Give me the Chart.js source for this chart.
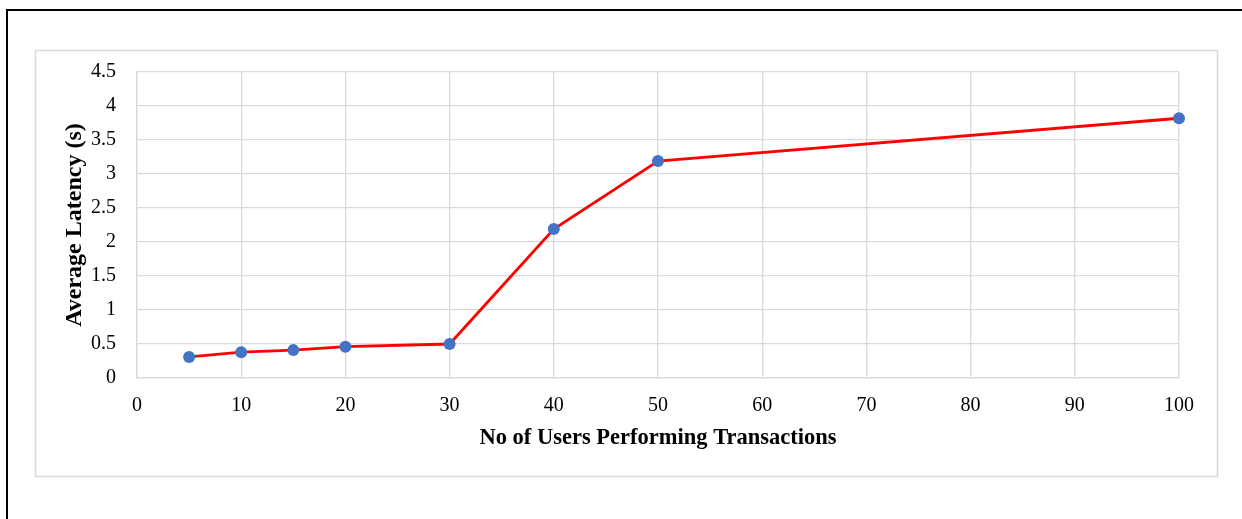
<!DOCTYPE html>
<html>
<head>
<meta charset="utf-8">
<title>Average Latency</title>
<script src="https://cdn.jsdelivr.net/npm/chart.js@4/dist/chart.umd.min.js"></script>
<style>
  html, body { margin: 0; padding: 0; background: #fff; }
  canvas { display: block; }
</style>
</head>
<body>
<canvas id="latency-chart" width="1242" height="519"></canvas>
<script>
// number of users on the x axis and measured latency in seconds
const users = [5, 10, 15, 20, 30, 40, 50, 100];
const latency = [0.31, 0.38, 0.41, 0.46, 0.50, 2.19, 3.19, 3.82];

const xTitle = 'No of Users Performing Transactions';
const yTitle = 'Average Latency (s)';

const serif = "'Liberation Serif', 'Times New Roman', serif";

// black frame (top + left) and the light grey chart box
const framePlugin = {
    id: 'frame',
    beforeDraw(chart) {
        const ctx = chart.ctx;
        ctx.save();
        ctx.fillStyle = '#fff';
        ctx.fillRect(0, 0, chart.width, chart.height);
        ctx.strokeStyle = '#d9d9d9';
        ctx.lineWidth = 1.5;
        ctx.strokeRect(35.5, 50.5, 1182, 426);
        ctx.strokeStyle = '#000';
        ctx.lineWidth = 2;
        ctx.beginPath();
        ctx.moveTo(7, 519);
        ctx.lineTo(7, 10);
        ctx.lineTo(1242, 10);
        ctx.stroke();
        ctx.restore();
    }
};

new Chart(document.getElementById('latency-chart').getContext('2d'), {
    type: 'scatter',
    data: {
        datasets: [{
            data: users.map((u, i) => ({ x: u, y: latency[i] })),
            showLine: true,
            clip: false,
            borderColor: '#ff0000',
            borderWidth: 2.8,
            pointRadius: 6,
            pointHoverRadius: 6,
            pointBackgroundColor: '#4472c4',
            pointBorderColor: '#4472c4',
            pointBorderWidth: 0
        }]
    },
    options: {
        responsive: false,
        animation: false,
        layout: { padding: { left: 60.6, right: 63, top: 72, bottom: 67 } },
        plugins: {
            legend: { display: false },
            tooltip: { enabled: false }
        },
        scales: {
            x: {
                type: 'linear',
                min: 0,
                max: 100,
                ticks: { stepSize: 10, color: '#000', padding: 16, font: { family: serif, size: 20 } },
                grid: { color: '#d9d9d9', lineWidth: 1.3, drawTicks: false },
                border: { color: '#d9d9d9', width: 1.3 },
                title: {
                    display: true,
                    text: xTitle,
                    color: '#000',
                    padding: 0,
                    font: { family: serif, size: 22.5, weight: 'bold' }
                },
                afterFit(scale) { scale.height = 74; }
            },
            y: {
                min: 0,
                max: 4.5,
                ticks: {
                    stepSize: 0.5,
                    color: '#000',
                    padding: 21,
                    font: { family: serif, size: 20 },
                    callback: v => String(v)
                },
                grid: { color: '#d9d9d9', lineWidth: 1.3, drawTicks: false },
                border: { color: '#d9d9d9', width: 1.3 },
                title: {
                    display: true,
                    text: yTitle,
                    color: '#000',
                    padding: 0,
                    font: { family: serif, size: 24, weight: 'bold' }
                },
                afterFit(scale) { scale.width = 76.4; }
            }
        }
    },
    plugins: [framePlugin]
});
</script>
</body>
</html>
